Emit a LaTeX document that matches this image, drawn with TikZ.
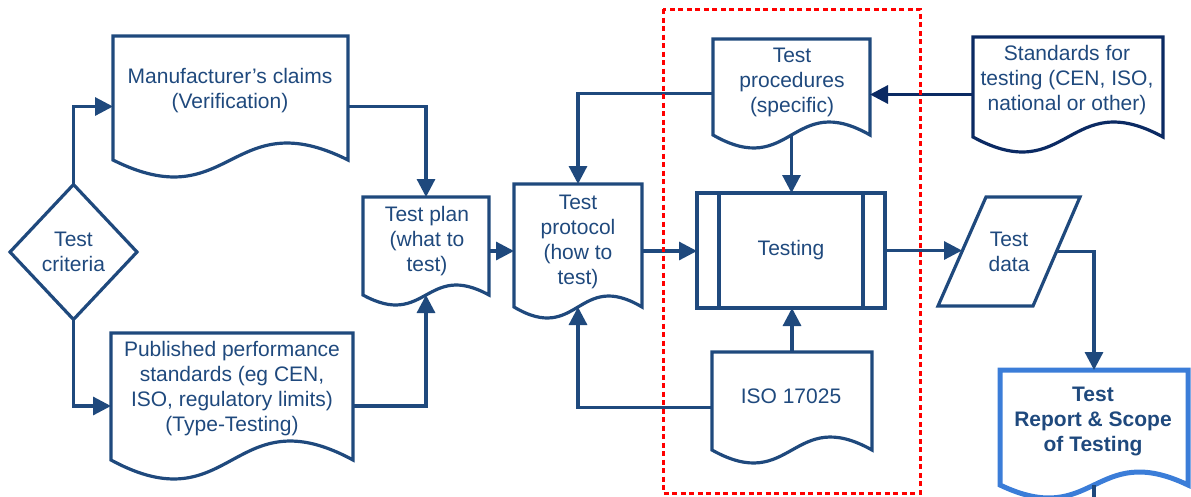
\documentclass[tikz,border=0pt]{standalone}
\usepackage{fontspec}
\setmainfont{Liberation Sans}
\usetikzlibrary{arrows.meta,calc}
\definecolor{tblue}{HTML}{1F497D}
\definecolor{navy}{HTML}{0B2A63}
\definecolor{rblue}{HTML}{3B7DD8}
\definecolor{dred}{HTML}{FF0000}
\newcommand\docwave[3]{%
  \draw[#3] (#1.north west) -- (#1.north east) -- ([yshift=#2]#1.south east)
    .. controls ([yshift={4.46*#2}]#1.south) and ([yshift={-2.46*#2}]#1.south) ..
    ([yshift=#2]#1.south west) -- cycle;}
\begin{document}
\begin{tikzpicture}[x=1pt,y=-1pt,
  box/.style={draw=none, inner sep=0pt, outer sep=0pt, rectangle},
  txt/.style={text=tblue, align=center, font=\fontsize{21}{25}\selectfont, inner sep=0pt},
  ln/.style={draw=tblue, line width=3.2pt},
  arr/.style={ln, -{Triangle[length=18pt,width=18pt]}},
  rbox/.style={draw=dred, line width=3pt, dash pattern=on 5pt off 3.5pt},
]
\useasboundingbox (0,0) rectangle (1191,496);

% shapes
\node[box, minimum width=235pt, minimum height=141pt] (man) at (230.5,106.5) {};
\node[box, minimum width=242pt, minimum height=146pt] (pub) at (232,406) {};
\node[box, minimum width=126pt, minimum height=108pt] (plan) at (426,251) {};
\node[box, minimum width=128pt, minimum height=134pt] (proto) at (578,251) {};
\node[box, minimum width=157pt, minimum height=109pt] (proc) at (791.5,93.5) {};
\node[box, minimum width=190pt, minimum height=115pt] (std) at (1068,94.5) {};
\node[box, minimum width=160pt, minimum height=111pt] (iso) at (792,407.5) {};
\node[box, minimum width=188pt, minimum height=128pt] (rep) at (1094,434) {};
\node[box, minimum width=127pt, minimum height=135pt, txt] (crit) at (73.5,252) {Test\\criteria};
\node[box, minimum width=142pt, minimum height=109pt, txt] (data) at (1009,251.5) {Test\\data};
\node[box, ln, minimum width=188pt, minimum height=115pt, txt] (testing) at (791,250.5) {Testing};

\docwave{man}{17}{ln}
\docwave{pub}{19}{ln}
\docwave{plan}{10}{ln}
\docwave{proto}{11}{ln}
\docwave{proc}{13}{ln}
\docwave{std}{15}{ln,draw=navy}
\docwave{iso}{13}{ln}
\docwave{rep}{13}{draw=rblue,line width=5pt}

\draw[ln] (crit.north) -- (crit.east) -- (crit.south) -- (crit.west) -- cycle;
\draw[ln] ([xshift=22]testing.north west) -- ([xshift=22]testing.south west);
\draw[ln] ([xshift=-22]testing.north east) -- ([xshift=-22]testing.south east);
\draw[ln, line join=miter] ([xshift=48]data.north west) -- (data.north east)
  -- ([xshift=-47]data.south east) -- (data.south west) -- cycle;
\coordinate (dl) at ($(data.south west)!0.5!([xshift=48]data.north west)$);
\coordinate (dr) at ($([xshift=-47]data.south east)!0.5!(data.north east)$);

% texts
\node[txt] (mant) at (230,90.5) {Manufacturer’s claims\\(Verification)};
\node[txt] (pubt) at (232,389) {Published performance\\standards (eg CEN,\\ISO, regulatory limits)\\(Type-Testing)};
\node[txt] (plant) at (427,241.5) {Test plan\\(what to\\test)};
\node[txt] (protot) at (578,241.5) {Test\\protocol\\(how to\\test)};
\node[txt] (proct) at (792,82.5) {Test\\procedures\\(specific)};
\node[txt] (stdt) at (1067,80.5) {Standards for\\testing (CEN, ISO,\\national or other)};
\node[txt] (isot) at (791,396) {ISO 17025};
\node[txt, font=\fontsize{21}{25}\selectfont\bfseries] (rept) at (1093,421) {Test\\Report \& Scope\\of Testing};

% connectors
\draw[arr] (crit.north) |- (man.west);
\draw[arr] (crit.south) |- (pub.west);
\draw[arr] (man.east) -| (plan.north);
\draw[arr] (pub.east) -| ([yshift=10]plan.south);
\draw[arr] (plan.east) -- (proto.west);
\draw[arr] (proc.west) -| (proto.north);
\draw[arr] (iso.west) -| ([yshift=11]proto.south);
\draw[arr] (proto.east) -- (proto.east -| testing.west);
\draw[arr] ([yshift=13]proc.south) -- (testing.north -| proc.south);
\draw[arr] (iso.north) -- (testing.south -| iso.north);
\draw[arr, draw=navy] (std.west) -- (std.west -| proc.east);
\draw[arr] (testing.east) -- (testing.east -| dl);
\draw[arr] (dr) -| (rep.north);
\coordinate (repout) at (1094,520);
\draw[ln] ([yshift=13]rep.south) -- (repout);

% red dashed scope box
\draw[rbox] (663,9) rectangle (920,493);
\end{tikzpicture}
\end{document}
